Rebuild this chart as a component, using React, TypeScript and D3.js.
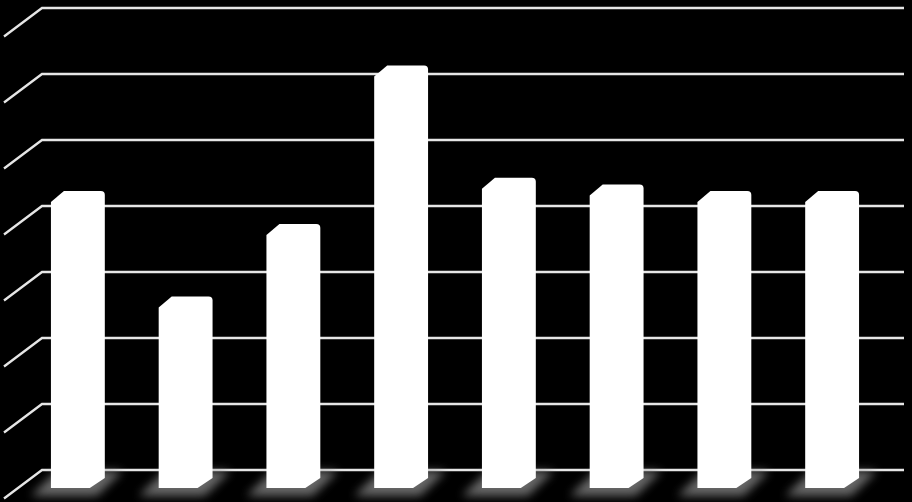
import React from 'react';
import * as d3 from 'd3';

const categories = ['1', '2', '3', '4', '5', '6', '7', '8'];
const values = [4.5, 2.9, 4.0, 6.4, 4.7, 4.6, 4.5, 4.5];
const ticks = [0, 1, 2, 3, 4, 5, 6, 7];

const W = 912;
const H = 502;
const wallLeft = 42;
const wallRight = 904;
const depthDx = -38;
const depthDy = 28.5;
const barDx = -18;

export default function App() {
  const yWall = d3.scaleLinear().domain([0, 7]).range([470, 8]);
  const yBar = d3.scaleLinear().domain([0, 7]).range([488, 26]);
  const x = d3
    .scaleBand<string>()
    .domain(categories)
    .range([wallLeft, wallRight])
    .paddingInner(0.5)
    .paddingOuter(0.25);
  const bw = x.bandwidth();

  const barPath = (x0: number, x1: number, yt: number, yb: number) => {
    const p = d3.path();
    p.moveTo(x0, yt + 11);
    p.lineTo(x0 + 13, yt);
    p.lineTo(x1 - 4, yt);
    p.quadraticCurveTo(x1, yt, x1, yt + 4);
    p.lineTo(x1, yb - 10);
    p.lineTo(x1 - 15, yb);
    p.lineTo(x0, yb);
    p.closePath();
    return p.toString();
  };

  return (
    <svg
      width={W}
      height={H}
      style={{ position: 'absolute', left: 0, top: 0, display: 'block', background: '#000' }}
    >
      <defs>
        <filter id="shadowBlur" x="-50%" y="-100%" width="200%" height="300%">
          <feGaussianBlur stdDeviation="5" />
        </filter>
      </defs>
      <rect x={0} y={0} width={W} height={H} fill="#000" />
      {ticks.map((t) => {
        const y = yWall(t);
        return (
          <path
            key={t}
            d={`M${wallLeft + depthDx},${y + depthDy} L${wallLeft},${y} L${wallRight},${y}`}
            fill="none"
            stroke="#e6e6e6"
            strokeWidth={2.3}
          />
        );
      })}
      {categories.map((c, i) => {
        const x0 = (x(c) as number) + barDx;
        const x1 = x0 + bw;
        const yb = yBar(0);
        return (
          <polygon
            key={'s' + c}
            points={`${x0 - 20},${yb + 8} ${x1 - 8},${yb + 8} ${x1 + 18},${yb - 17} ${x0 + 6},${yb - 17}`}
            fill="#8a8a8a"
            opacity={0.75}
            filter="url(#shadowBlur)"
          />
        );
      })}
      {categories.map((c, i) => {
        const x0 = (x(c) as number) + barDx;
        const x1 = x0 + bw;
        return (
          <path
            key={'b' + c}
            d={barPath(x0, x1, yBar(values[i]), yBar(0))}
            fill="#ffffff"
          />
        );
      })}
    </svg>
  );
}
